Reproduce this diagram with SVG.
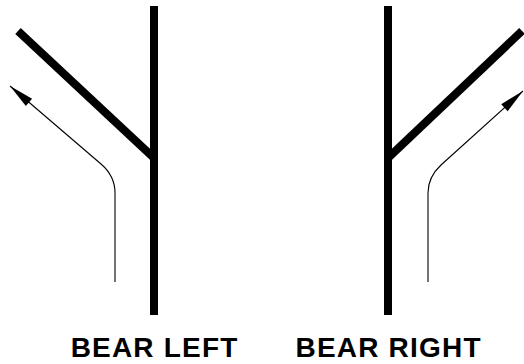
<svg xmlns="http://www.w3.org/2000/svg" width="524" height="364" viewBox="0 0 524 364">
  <style>
    .road { stroke: #000; stroke-width: 8; stroke-linecap: butt; fill: none; }
    .route { stroke: #000; stroke-width: 1.1; fill: none; marker-end: url(#head); }
    .label { font-family: "Liberation Sans", Arial, sans-serif; font-weight: bold; font-size: 28px; letter-spacing: 1.2px; fill: #000; text-anchor: middle; }
  </style>
  <defs>
    <marker id="head" markerUnits="userSpaceOnUse" markerWidth="30" markerHeight="12" refX="0" refY="0" orient="auto" overflow="visible">
      <path d="M0,0 L-25,-4.8 L-25,4.8 Z" fill="#000"/>
    </marker>
  </defs>
  <rect width="524" height="364" fill="#fff"/>
  <g id="bear-left">
    <line class="road" x1="154" y1="6" x2="154" y2="315"/>
    <line class="road" x1="154" y1="158" x2="18" y2="31"/>
    <text class="label" x="154.6" y="357">BEAR LEFT</text>
  </g>
  <g id="bear-right">
    <line class="road" x1="388" y1="6" x2="388" y2="315"/>
    <line class="road" x1="388" y1="158" x2="522" y2="31"/>
    <text class="label" x="388.6" y="357">BEAR RIGHT</text>
  </g>
  <g id="connectors">
    <path class="route" d="M115,282 V193 Q115,176 101,164 L10,86"/>
    <path class="route" d="M428,282 V193 Q428,177 441,165 L523,91"/>
  </g>
</svg>
